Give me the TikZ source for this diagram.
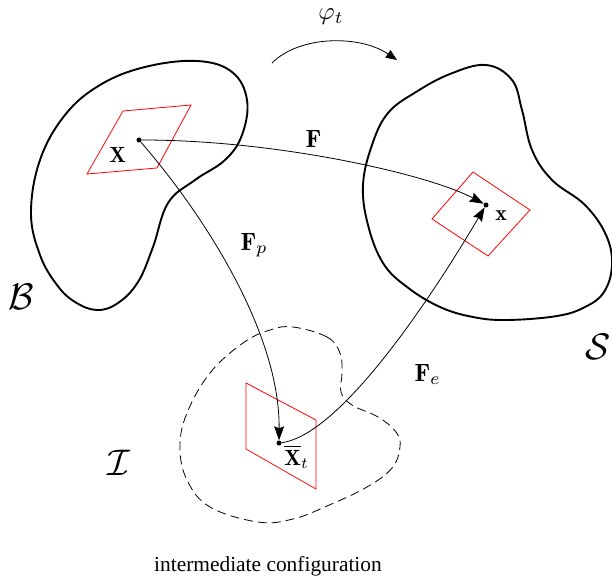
\documentclass[tikz,border=0pt]{standalone}
\usepackage{fontspec}
\newfontfamily\capfont{Liberation Serif}
\usetikzlibrary{arrows.meta}
\tikzset{
  body/.style={line width=1.9pt, black},
  interm/.style={line width=0.8pt, black, dash pattern=on 9pt off 5pt},
  elem/.style={line width=0.8pt, red},
  mapline/.style={line width=0.8pt, black, -{Stealth[length=14pt,width=10pt,inset=2pt]}},
  dotnode/.style={circle, fill=black, inner sep=0pt, minimum size=5pt},
  lbl/.style={inner sep=0pt, scale=2.2},
  biglbl/.style={inner sep=0pt, scale=2.5},
  cal/.style={inner sep=0pt, scale=3.7},
  captxt/.style={inner sep=0pt, font=\capfont\fontsize{21.4}{25}\selectfont}
}
\begin{document}
\begin{tikzpicture}[x=1pt,y=-1pt]
\useasboundingbox (0,0) rectangle (612,580);

% reference body B
\draw[body] plot[smooth cycle, tension=0.65] coordinates {
 (197,61) (232,72) (247,100) (242,135) (225,160) (195,180) (168,203)
 (153,247) (138,282) (118,303) (97,310) (75,302) (57,285) (40,255)
 (31,213) (40,160) (65,115) (100,85) (145,67)};

% current body S
\draw[body] plot[smooth cycle, tension=0.65] coordinates {
 (486,65) (512,80) (522,110) (532,150) (552,180) (585,205) (606,235)
 (612,265) (604,292) (585,307) (557,316) (507,320) (473,317) (440,307)
 (407,287) (383,263) (368,225) (363,185) (372,145) (388,113) (416,92) (450,74)};

% intermediate configuration I
\draw[interm] plot[smooth cycle, tension=0.65] coordinates {
 (293,327) (327,337) (340,353) (342,373) (341,392) (352,405) (378,417)
 (396,432) (400,447) (392,468) (367,487) (327,506) (293,519) (258,522)
 (210,507) (187,480) (180,447) (187,413) (210,373) (243,343) (270,330)};

% red elements
\draw[elem] (123,111) -- (191,105) -- (157,168) -- (87,174) -- cycle;
\draw[elem] (473,172) -- (530,210) -- (488,256) -- (432,219) -- cycle;
\draw[elem] (246,383) -- (316,420) -- (316,489) -- (246,449) -- cycle;

% material points
\node[dotnode] (X) at (139,140) {};
\node[dotnode] (x) at (486,205) {};
\node[dotnode] (Xt) at (279,443) {};

% mappings
\draw[mapline] (X) .. controls (280,140) and (430,175) .. (x);
\draw[mapline] (X) .. controls (200,210) and (280,330) .. (Xt);
\draw[mapline] (Xt) .. controls (340,435) and (430,300) .. (x);

% motion arrow
\coordinate (phiA) at (272,63);
\coordinate (phiB) at (397,60);
\draw[line width=0.8pt, -{Triangle[length=11pt,width=9pt]}] (phiA) .. controls (300,35) and (360,35) .. (phiB);

% labels
\node[biglbl] (phil) at (331,17) {$\varphi_t$};
\node[biglbl, anchor=base west] (Fl) at (305,148) {$\mathbf{F}$};
\node[biglbl, anchor=base west] (Fpl) at (240,250) {$\mathbf{F}_p$};
\node[biglbl, anchor=base west] (Fel) at (414,381) {$\mathbf{F}_e$};
\node[lbl, anchor=base west] (Xl) at (109,163) {$\mathbf{X}$};
\node[lbl, anchor=base west] (xl) at (495,220) {$\mathbf{x}$};
\node[lbl, anchor=base west] (Xtl) at (284,465) {$\overline{\mathbf{X}}_t$};

\node[cal] (Bl) at (21,297) {$\mathcal{B}$};
\node[cal] (Il) at (119,463) {$\mathcal{I}$};
\node[cal, anchor=east] (Sl) at (611,347) {$\mathcal{S}$};

\node[captxt] (cap) at (268,566) {intermediate configuration};
\end{tikzpicture}
\end{document}
